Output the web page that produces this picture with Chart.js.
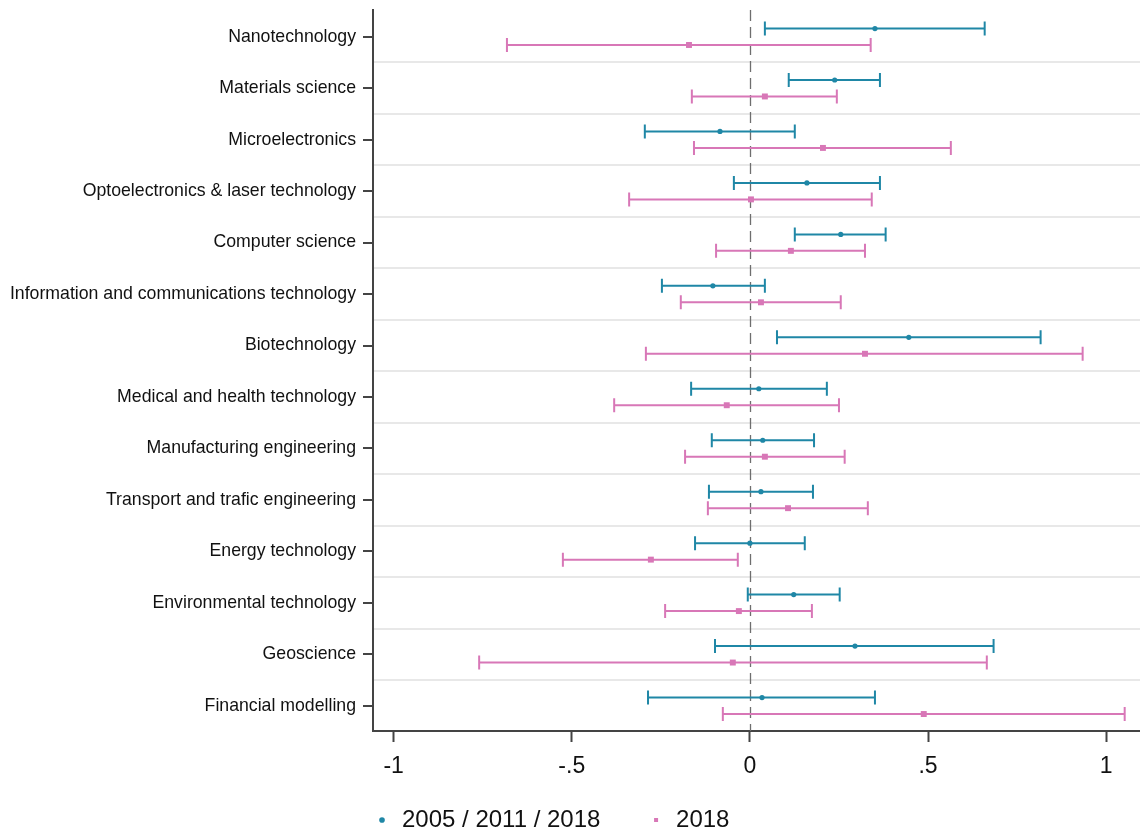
<!DOCTYPE html>
<html>
<head>
<meta charset="utf-8">
<script src="https://cdn.jsdelivr.net/npm/chart.js@4.4.1/dist/chart.umd.min.js"></script>
<style>
  html, body { margin: 0; padding: 0; background: #fff; }
  #wrap { width: 1140px; height: 834px; }
</style>
</head>
<body>
<div id="wrap"><canvas id="coefChart" width="1140" height="834"></canvas></div>
<script>
// Categories (top to bottom)
const categories = [
    'Nanotechnology', 'Materials science', 'Microelectronics',
    'Optoelectronics & laser technology', 'Computer science',
    'Information and communications technology', 'Biotechnology',
    'Medical and health technology', 'Manufacturing engineering',
    'Transport and trafic engineering', 'Energy technology',
    'Environmental technology', 'Geoscience', 'Financial modelling'
];

// 2005 / 2011 / 2018 series
const blueEst = [0.351, 0.238, -0.084, 0.160, 0.255, -0.104, 0.446, 0.025, 0.036, 0.031, 0.000, 0.123, 0.295, 0.034];
const blueLo  = [0.042, 0.109, -0.295, -0.045, 0.126, -0.247, 0.076, -0.165, -0.107, -0.115, -0.154, -0.006, -0.098, -0.286];
const blueHi  = [0.659, 0.365, 0.126, 0.365, 0.381, 0.042, 0.816, 0.216, 0.180, 0.177, 0.154, 0.252, 0.684, 0.351];

// 2018 series
const pinkEst = [-0.171, 0.042, 0.205, 0.003, 0.115, 0.031, 0.323, -0.065, 0.042, 0.107, -0.278, -0.031, -0.048, 0.488];
const pinkLo  = [-0.682, -0.163, -0.157, -0.339, -0.095, -0.194, -0.292, -0.381, -0.182, -0.118, -0.525, -0.238, -0.760, -0.076];
const pinkHi  = [0.339, 0.244, 0.564, 0.342, 0.323, 0.255, 0.934, 0.250, 0.266, 0.331, -0.034, 0.174, 0.665, 1.052];

// X tick labels
const xTickValues = [-1, -0.5, 0, 0.5, 1];
const xTickLabels = ['-1', '-.5', '0', '.5', '1'];

const BLUE = '#1f87a6';
const PINK = '#d877b7';
const FONT = "'Liberation Sans', Arial, sans-serif";

// build scatter points for one series, shifted inside its row
const makePoints = (est, shift) => est.map((v, i) => ({ x: v, y: i + shift }));

// Error bars + zero reference line
const errorBarPlugin = {
    id: 'errorBars',
    beforeDatasetsDraw(chart) {
        const ctx = chart.ctx;
        const xs = chart.scales.x;
        const area = chart.chartArea;

        // dashed zero line
        ctx.save();
        ctx.strokeStyle = '#6e6e6e';
        ctx.lineWidth = 1.3;
        ctx.setLineDash([11, 6]);
        ctx.beginPath();
        const x0 = Math.round(xs.getPixelForValue(0)) + 0.5;
        ctx.moveTo(x0, area.top);
        ctx.lineTo(x0, area.bottom);
        ctx.stroke();
        ctx.restore();

        chart.data.datasets.forEach((ds, di) => {
            const meta = chart.getDatasetMeta(di);
            ctx.save();
            ctx.strokeStyle = ds.borderColor;
            ctx.lineWidth = 2;
            meta.data.forEach((pt, i) => {
                const y = pt.y;
                const xl = xs.getPixelForValue(ds.errLo[i]);
                const xh = xs.getPixelForValue(ds.errHi[i]);
                ctx.beginPath();
                ctx.moveTo(xl, y);
                ctx.lineTo(xh, y);
                ctx.moveTo(xl, y - 7);
                ctx.lineTo(xl, y + 7);
                ctx.moveTo(xh, y - 7);
                ctx.lineTo(xh, y + 7);
                ctx.stroke();
            });
            ctx.restore();
        });
    }
};

const isRow = (v) => Number.isInteger(v);

new Chart(document.getElementById('coefChart'), {
    type: 'scatter',
    data: {
        datasets: [{
            label: '2005 / 2011 / 2018',
            data: makePoints(blueEst, -0.16),
            errLo: blueLo,
            errHi: blueHi,
            backgroundColor: BLUE,
            borderColor: BLUE,
            pointStyle: 'circle',
            pointRadius: 2.6,
            borderWidth: 0
        }, {
            label: '2018',
            data: makePoints(pinkEst, 0.16),
            errLo: pinkLo,
            errHi: pinkHi,
            backgroundColor: PINK,
            borderColor: PINK,
            pointStyle: 'rect',
            pointRadius: 4.2,
            borderWidth: 0
        }]
    },
    options: {
        responsive: false,
        animation: false,
        devicePixelRatio: 1,
        layout: { autoPadding: false, padding: { top: 10, right: 0, bottom: -8, left: 0 } },
        plugins: {
            tooltip: { enabled: false },
            legend: {
                display: true,
                position: 'bottom',
                align: 'start',
                fullSize: false,
                labels: {
                    usePointStyle: true,
                    boxWidth: 16,
                    boxHeight: 4,
                    color: '#111',
                    padding: 1,
                    font: { family: FONT, size: 24 },
                    // wider gap after the first entry, as in the original
                    generateLabels: (chart) => {
                        const items = Chart.defaults.plugins.legend.labels.generateLabels(chart);
                        items.forEach((it, i) => {
                            if (i < items.length - 1) it.text = it.text + '       ';
                        });
                        return items;
                    }
                }
            }
        },
        scales: {
            x: {
                type: 'linear',
                min: -1.058,
                max: 1.095,
                afterBuildTicks: (scale) => {
                    scale.ticks = xTickValues.map(v => ({ value: v }));
                },
                afterFit: (scale) => {
                    scale.height = 76;
                    scale.paddingLeft = 0;
                    scale.paddingRight = 0;
                },
                ticks: {
                    color: '#111',
                    padding: 11,
                    font: { family: FONT, size: 23 },
                    callback: (value) => xTickLabels[xTickValues.indexOf(value)]
                },
                grid: {
                    drawOnChartArea: false,
                    drawTicks: true,
                    tickLength: 11,
                    tickWidth: 2,
                    tickColor: '#444'
                },
                border: { display: true, color: '#444', width: 2 }
            },
            y: {
                type: 'linear',
                reverse: true,
                min: -0.52,
                max: 13.49,
                afterBuildTicks: (scale) => {
                    const ticks = [];
                    for (let i = 0; i < categories.length; i++) {
                        ticks.push({ value: i });
                        if (i < categories.length - 1) ticks.push({ value: i + 0.5 });
                    }
                    scale.ticks = ticks;
                },
                afterFit: (scale) => {
                    scale.width = 373;
                    scale.paddingTop = 0;
                    scale.paddingBottom = 0;
                },
                ticks: {
                    color: '#111',
                    padding: 7,
                    autoSkip: false,
                    font: { family: FONT, size: 17.7 },
                    callback: (value) => isRow(value) ? categories[value] : ''
                },
                grid: {
                    drawOnChartArea: true,
                    lineWidth: 2,
                    color: (c) => (c.tick && !isRow(c.tick.value)) ? '#e8e8e8' : 'rgba(0,0,0,0)',
                    tickLength: 10,
                    tickWidth: 2,
                    tickColor: (c) => (c.tick && isRow(c.tick.value)) ? '#444' : 'rgba(0,0,0,0)'
                },
                border: { display: true, color: '#444', width: 2 }
            }
        }
    },
    plugins: [errorBarPlugin]
});
</script>
</body>
</html>
